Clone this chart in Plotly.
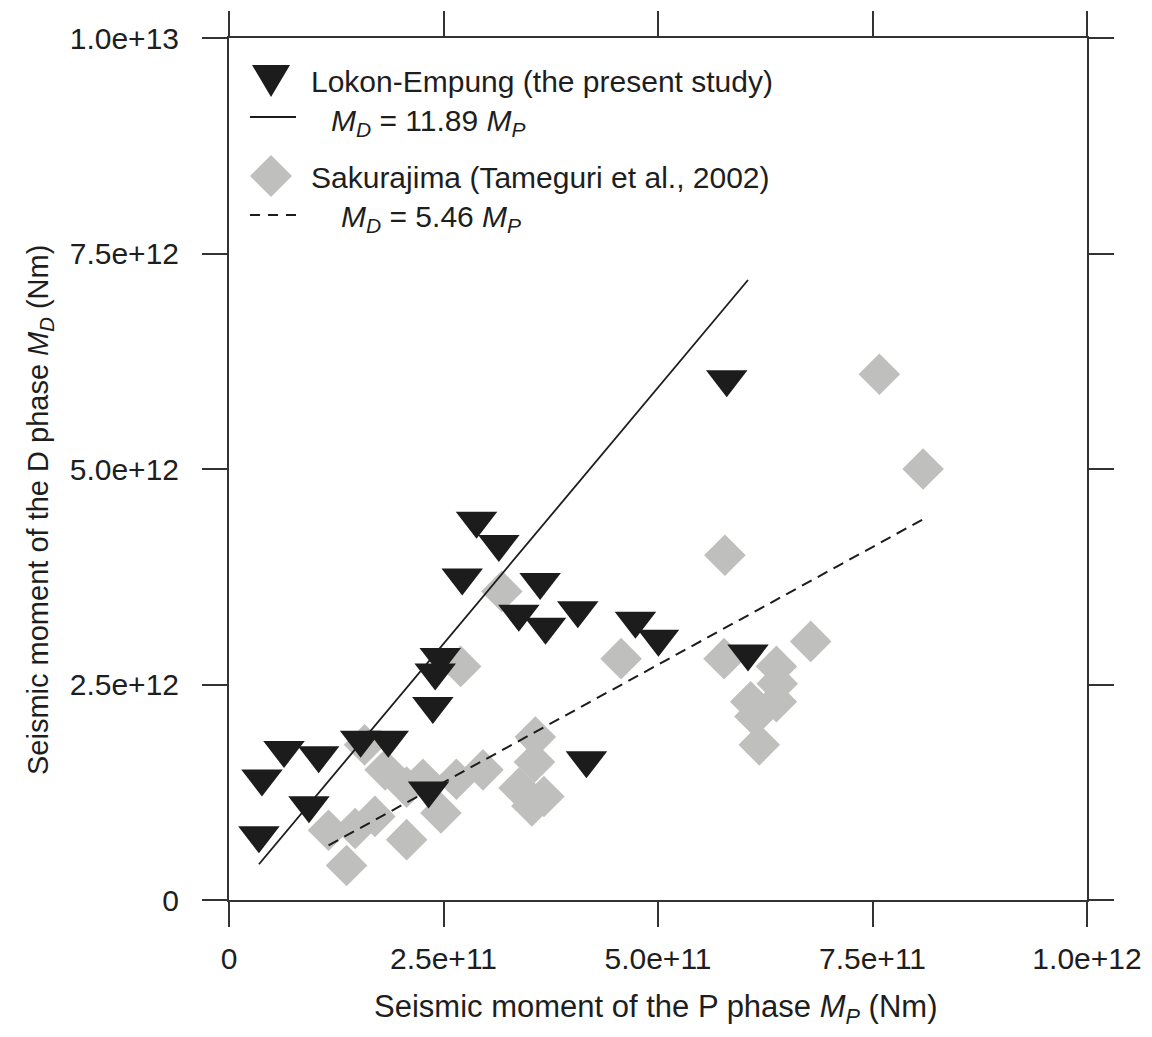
import plotly.graph_objects as go

# ---------------- data ----------------
lokon_mp = [0.349e11, 0.384e11, 0.641e11, 1.045e11, 0.932e11, 1.534e11, 1.856e11,
            2.376e11, 2.403e11, 2.462e11, 2.326e11, 2.718e11, 2.885e11, 3.145e11,
            3.378e11, 3.626e11, 3.689e11, 4.065e11, 4.166e11, 4.737e11, 5.005e11,
            5.801e11, 6.049e11]
lokon_md = [0.75e12, 1.41e12, 1.74e12, 1.68e12, 1.10e12, 1.86e12, 1.86e12,
            2.25e12, 2.64e12, 2.82e12, 1.27e12, 3.74e12, 4.40e12, 4.13e12,
            3.32e12, 3.69e12, 3.17e12, 3.36e12, 1.62e12, 3.24e12, 3.03e12,
            6.04e12, 2.86e12]

sak_mp = [1.37e11, 1.16e11, 1.47e11, 1.70e11, 2.07e11, 2.47e11, 1.58e11, 1.82e11,
          2.07e11, 2.26e11, 2.65e11, 2.96e11, 2.70e11, 3.18e11, 3.57e11, 3.56e11,
          3.38e11, 3.53e11, 3.67e11, 4.57e11, 5.77e11, 5.78e11, 6.78e11, 6.38e11,
          6.39e11, 6.38e11, 6.08e11, 6.13e11, 6.18e11, 7.58e11, 8.09e11]
sak_md = [0.40e12, 0.81e12, 0.83e12, 0.97e12, 0.70e12, 1.01e12, 1.80e12, 1.51e12,
          1.31e12, 1.40e12, 1.40e12, 1.51e12, 2.71e12, 3.58e12, 1.89e12, 1.60e12,
          1.30e12, 1.09e12, 1.20e12, 2.80e12, 2.80e12, 4.00e12, 3.00e12, 2.71e12,
          2.51e12, 2.30e12, 2.30e12, 2.13e12, 1.80e12, 6.10e12, 5.00e12]

lokon_slope = 11.89
sak_slope = 5.46

x_tickvals = [0, 2.5e11, 5.0e11, 7.5e11, 1.0e12]
x_ticktext = ["0", "2.5e+11", "5.0e+11", "7.5e+11", "1.0e+12"]
y_tickvals = [0, 2.5e12, 5.0e12, 7.5e12, 1.0e13]
y_ticktext = ["0", "2.5e+12", "5.0e+12", "7.5e+12", "1.0e+13"]

lokon_label = "Lokon-Empung (the present study)"
lokon_eq = "<i>M</i><sub><i>D</i></sub> = 11.89 <i>M</i><sub><i>P</i></sub>"
sak_label = "Sakurajima (Tameguri et al., 2002)"
sak_eq = "<i>M</i><sub><i>D</i></sub> = 5.46 <i>M</i><sub><i>P</i></sub>"
x_title = "Seismic moment of the P phase <i>M</i><sub><i>P</i></sub> (Nm)"
y_title = "Seismic moment of the D phase <i>M</i><sub><i>D</i></sub> (Nm)"

# ---------------- styling ----------------
OFF = 8                      # default page body margin
W, H = 1152 - 2 * OFF, 1037 - 2 * OFF
PL, PT = 229, 38             # plot-area left/top in the screenshot
PW, PH = 858, 862
ML, MT = PL - OFF, PT - OFF
MR, MB = W - ML - PW, H - MT - PH
FONT = "Liberation Sans, Arial, Helvetica, sans-serif"
TXT = "#1e1e1e"
BLACK = "#1c1c1c"
GREY = "#bfc0be"
AX = "#333333"


def px(x):
    return (x - PL) / PW


def py(y):
    return (PT + PH - y) / PH


fig = go.Figure()

fig.add_trace(go.Scatter(x=sak_mp, y=sak_md, mode="markers",
                         marker=dict(symbol="diamond", size=32, color=GREY, line=dict(width=0)),
                         showlegend=False, hoverinfo="skip"))

sx = [min(sak_mp), max(sak_mp)]
fig.add_trace(go.Scatter(x=sx, y=[sak_slope * v for v in sx], mode="lines",
                         line=dict(color=BLACK, width=2, dash="11px,7px"),
                         showlegend=False, hoverinfo="skip"))

lx = [min(lokon_mp), max(lokon_mp)]
fig.add_trace(go.Scatter(x=lx, y=[lokon_slope * v for v in lx], mode="lines",
                         line=dict(color=BLACK, width=1.8),
                         showlegend=False, hoverinfo="skip"))

fig.add_trace(go.Scatter(x=lokon_mp, y=lokon_md, mode="markers",
                         marker=dict(symbol="triangle-down", size=36, color=BLACK, line=dict(width=0)),
                         showlegend=False, hoverinfo="skip"))

# ---------------- manual legend ----------------
shapes = []
tcx, ttop, tbot, thw = 271, 65, 97, 19
shapes.append(dict(type="path", xref="paper", yref="paper",
                   path=f"M{px(tcx - thw)},{py(ttop)} L{px(tcx + thw)},{py(ttop)} L{px(tcx)},{py(tbot)} Z",
                   fillcolor=BLACK, line=dict(width=0)))
shapes.append(dict(type="line", xref="paper", yref="paper",
                   x0=px(250), x1=px(296), y0=py(117), y1=py(117),
                   line=dict(color=BLACK, width=1.8)))
dcx, dcy, dr = 271, 176, 21
shapes.append(dict(type="path", xref="paper", yref="paper",
                   path=(f"M{px(dcx)},{py(dcy - dr)} L{px(dcx + dr)},{py(dcy)} "
                         f"L{px(dcx)},{py(dcy + dr)} L{px(dcx - dr)},{py(dcy)} Z"),
                   fillcolor=GREY, line=dict(width=0)))
shapes.append(dict(type="line", xref="paper", yref="paper",
                   x0=px(250), x1=px(296), y0=py(215), y1=py(215),
                   line=dict(color=BLACK, width=1.8, dash="10px,8px")))

annotations = []
LF = 30
for text, x, y in [(lokon_label, 309, 81), (lokon_eq, 329, 122),
                   (sak_label, 309, 177), (sak_eq, 339, 218)]:
    annotations.append(dict(text=text, xref="paper", yref="paper", x=px(x), y=py(y),
                            xanchor="left", yanchor="middle", showarrow=False,
                            font=dict(family=FONT, size=LF, color=TXT)))

annotations.append(dict(text=x_title, xref="paper", yref="paper", x=px(655), y=py(1009),
                        xanchor="center", yanchor="middle", showarrow=False,
                        font=dict(family=FONT, size=31, color=TXT)))
annotations.append(dict(text=y_title, xref="paper", yref="paper", x=px(40), y=py(510),
                        xanchor="center", yanchor="middle", showarrow=False, textangle=-90,
                        font=dict(family=FONT, size=29, color=TXT)))

axis_common = dict(showline=True, linecolor=AX, linewidth=2, mirror="ticks",
                   ticks="outside", ticklen=25, tickwidth=1.5, tickcolor=AX,
                   showgrid=False, zeroline=False, automargin=False,
                   tickfont=dict(family=FONT, size=30, color=TXT))

fig.update_layout(
    width=W, height=H,
    margin=dict(l=ML, r=MR, t=MT, b=MB, pad=0, autoexpand=False),
    paper_bgcolor="white", plot_bgcolor="white",
    showlegend=False,
    xaxis=dict(range=[0, 1.0e12], tickmode="array", tickvals=x_tickvals, ticktext=x_ticktext,
               ticklabelstandoff=6, **axis_common),
    yaxis=dict(range=[0, 1.0e13], tickmode="array", tickvals=y_tickvals, ticktext=y_ticktext,
               ticklabelstandoff=17, **axis_common),
    shapes=shapes,
    annotations=annotations,
)

fig.write_html("out.html")
